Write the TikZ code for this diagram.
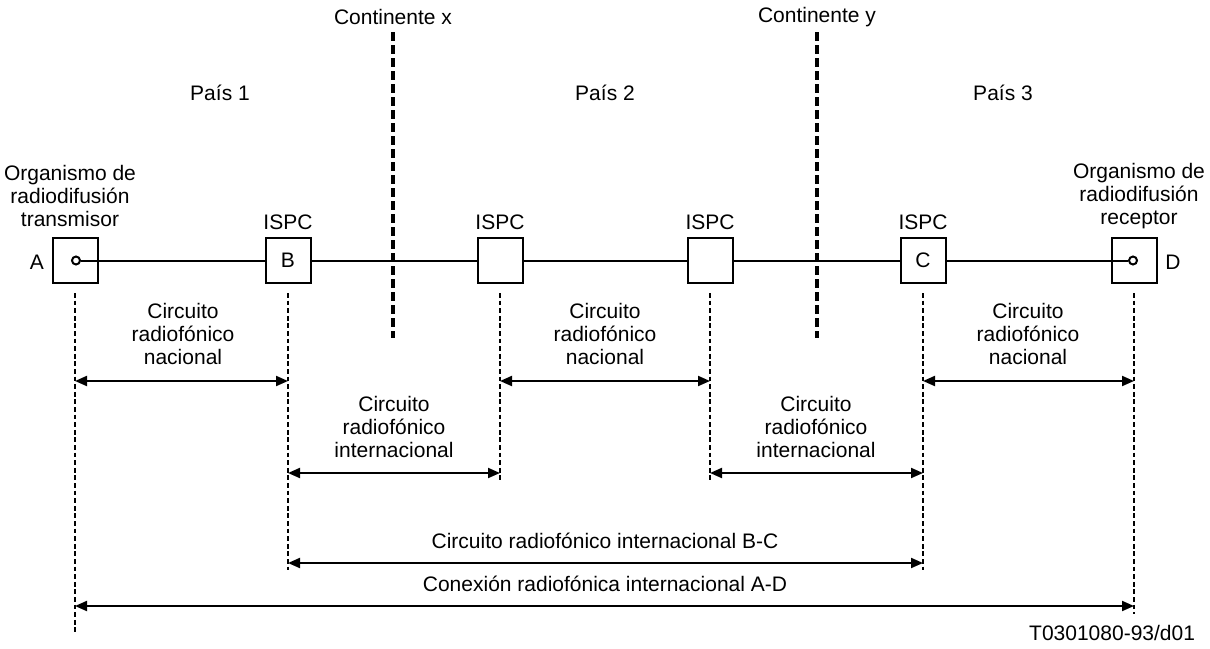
\documentclass[tikz,border=0pt]{standalone}
\usepackage{fontspec}
\setmainfont{Liberation Sans}
\usetikzlibrary{arrows.meta}
\begin{document}
\begin{tikzpicture}[x=0.5pt,y=-0.5pt,line width=1pt,
    font=\fontsize{10.5}{11.6}\selectfont,
    guide/.style={line width=0.8pt,dash pattern=on 2.4pt off 1.4pt},
    border/.style={line width=2pt,dash pattern=on 4.5pt off 2pt},
    dim/.style={{Triangle[length=6pt,width=5pt]}-{Triangle[length=6pt,width=5pt]}},
    txt/.style={align=center,inner sep=0pt}]

      \useasboundingbox (0,0) rectangle (1210,648);

      % equipos
      \begin{scope}[every node/.style={draw,fill=white,minimum size=22.5pt,inner sep=0pt}]
        \node (a)  at (75,260.5)   {};
        \node (b)  at (288,260.5)  {B};
        \node (x1) at (500,260.5)  {};
        \node (x2) at (710,260.5)  {};
        \node (c)  at (923,260.5)  {C};
        \node (d)  at (1134,260.5) {};
      \end{scope}

      \begin{scope}[every node/.style={circle,draw,fill=white,minimum size=4pt,inner sep=0pt}]
        \node (ao) at (76,260.5)   {};
        \node (do) at (1133,260.5) {};
      \end{scope}

      \draw (ao) -- (b) -- (x1) -- (x2) -- (c) -- (do);

      % fronteras
      \draw[border] (393,32) -- (393,338);
      \draw[border] (817,32) -- (817,338);

      % referencias
      \draw[guide] ([yshift=-4.5pt]a.south)  -- (a.south |- 0,632);
      \draw[guide] ([yshift=-4.5pt]b.south)  -- (b.south |- 0,570);
      \draw[guide] ([yshift=-4.5pt]x1.south) -- (x1.south |- 0,482);
      \draw[guide] ([yshift=-4.5pt]x2.south) -- (x2.south |- 0,482);
      \draw[guide] ([yshift=-4.5pt]c.south)  -- (c.south |- 0,570);
      \draw[guide] ([yshift=-4.5pt]d.south)  -- (d.south |- 0,614);

      \draw[dim] (a.south |- 0,381)  -- (b.south |- 0,381);
      \draw[dim] (x1.south |- 0,381) -- (x2.south |- 0,381);
      \draw[dim] (c.south |- 0,381)  -- (d.south |- 0,381);
      \draw[dim] (b.south |- 0,473)  -- (x1.south |- 0,473);
      \draw[dim] (x2.south |- 0,473) -- (c.south |- 0,473);
      \draw[dim] (b.south |- 0,563)  -- (c.south |- 0,563);
      \draw[dim] (a.south |- 0,606)  -- (d.south |- 0,606);

      % textos
      \begin{scope}[every node/.style={txt}]
        \foreach \name in {b,x1,x2,c}
          \node at ([yshift=7.5pt]\name.north) {ISPC};
        \node (la) at (37,262)   {A};
        \node (ld) at (1173,262) {D};
        \node (ta) at (70,196)   {Organismo de\\radiodifusión\\transmisor};
        \node (td) at (1139,196) {Organismo de\\radiodifusión\\receptor};
        \node (p1) at (220,93)   {País 1};
        \node (p2) at (605,93)   {País 2};
        \node (p3) at (1003,93)  {País 3};
        \node (kx) at (393,17)   {Continente x};
        \node (ky) at (817,17)   {Continente y};
        \foreach \x in {183,605,1028}
          \node at (\x,334) {Circuito\\radiofónico\\nacional};
        \foreach \x in {394,816}
          \node at (\x,427) {Circuito\\radiofónico\\internacional};
        \node (bc) at (605,541) {Circuito radiofónico internacional B-C};
        \node (ad) at (605,584) {Conexión radiofónica internacional A-D};
        \node[anchor=east] (ref) at (1196,633) {T0301080-93/d01};
      \end{scope}

    \end{tikzpicture}
\end{document}
